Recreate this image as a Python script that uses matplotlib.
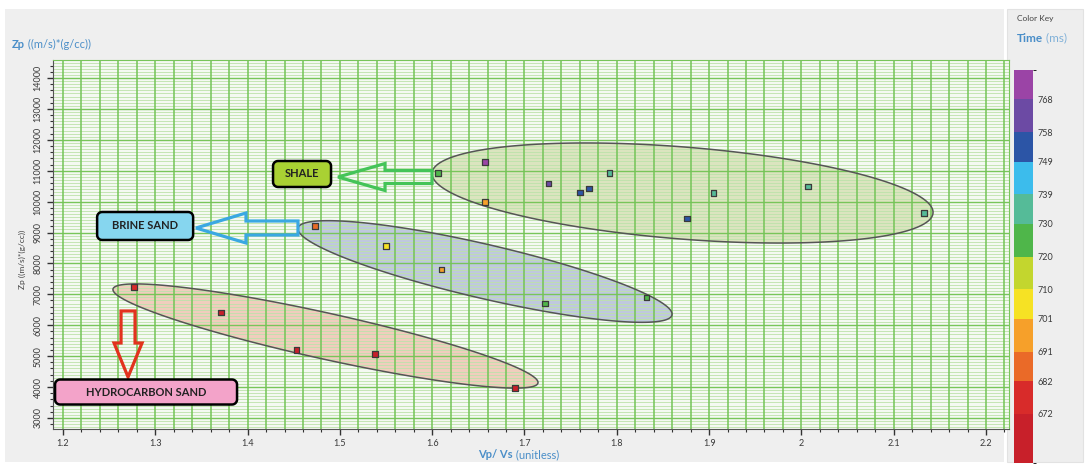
import numpy as np
import matplotlib
matplotlib.use('Agg')
import matplotlib.pyplot as plt
from matplotlib.colors import ListedColormap, BoundaryNorm
from matplotlib.patches import Polygon, Rectangle
from matplotlib.colorbar import ColorbarBase

plt.rcParams['font.family'] = ['Lato', 'DejaVu Sans']

# --- Crossplot data: Vp/Vs, acoustic impedance Zp, two-way time (ms) ---
hc_vpvs = [1.277, 1.371, 1.453, 1.538, 1.690]
hc_zp = [7230, 6410, 5190, 5060, 3960]
hc_time = [678, 668, 670, 666, 670]

brine_vpvs = [1.473, 1.550, 1.610, 1.722, 1.832]
brine_zp = [9210, 8560, 7810, 6700, 6900]
brine_time = [686, 704, 697, 724, 726]

shale_vpvs = [1.606, 1.657, 1.657, 1.726, 1.760, 1.770, 1.792, 1.876, 1.905, 2.007, 2.133]
shale_zp = [10920, 11280, 9990, 10580, 10290, 10420, 10930, 9460, 10270, 10490, 9640]
shale_time = [725, 772, 695, 763, 756, 752, 734, 753, 735, 731, 737]

# colour key
time_bounds = [657, 672, 682, 691, 701, 710, 720, 730, 739, 749, 758, 768, 777]
time_colors = ['#c8202a', '#d82b2a', '#ea6a28', '#f6a02a', '#f6e224', '#c3d62e',
               '#4fb64a', '#55bb98', '#3cbcec', '#2c55a6', '#6c4aa4', '#9b44a6']

x_ticks = [1.2, 1.3, 1.4, 1.5, 1.6, 1.7, 1.8, 1.9, 2.0, 2.1, 2.2]
y_ticks = list(range(3000, 14001, 1000))

XMIN, XMAX = 1.1892, 2.2249
YMIN, YMAX = 2641, 14583

# figure layout in pixels
W, H = 1087, 468
AX_L, AX_R, AX_T, AX_B = 53, 1009, 60, 429


def to_px(v, z):
    x = AX_L + (v - XMIN) / (XMAX - XMIN) * (AX_R - AX_L)
    y = AX_B - (z - YMIN) / (YMAX - YMIN) * (AX_B - AX_T)
    return np.array([x, y])


def to_data(p):
    p = np.atleast_2d(p)
    v = XMIN + (p[:, 0] - AX_L) / (AX_R - AX_L) * (XMAX - XMIN)
    z = YMIN + (AX_B - p[:, 1]) / (AX_B - AX_T) * (YMAX - YMIN)
    return np.column_stack([v, z])


def ellipse_between(tip_a, tip_b, half_w):
    """Ellipse polygon spanning two tips, half-thickness in pixels."""
    a, b = to_px(*tip_a), to_px(*tip_b)
    c = (a + b) / 2
    u = (b - a) / 2
    n = np.array([-u[1], u[0]]) / np.linalg.norm(u) * half_w
    t = np.linspace(0, 2 * np.pi, 200)
    pts = c + np.outer(np.cos(t), u) + np.outer(np.sin(t), n)
    return to_data(pts)


def hollow_arrow(tail, tip, shaft_hw, head_hw, head_len):
    a, b = to_px(*tail), to_px(*tip)
    d = (b - a) / np.linalg.norm(b - a)
    n = np.array([-d[1], d[0]])
    neck = b - d * head_len
    pts = [a + n * shaft_hw, neck + n * shaft_hw, neck + n * head_hw, b,
           neck - n * head_hw, neck - n * shaft_hw, a - n * shaft_hw]
    return to_data(np.array(pts))


def rounded_box(center, w, h, r=5):
    cx, cy = to_px(*center)
    x0, x1, y0, y1 = cx - w / 2, cx + w / 2, cy - h / 2, cy + h / 2
    pts = []
    for (ox, oy, a0) in [(x1 - r, y0 + r, -90), (x1 - r, y1 - r, 0),
                         (x0 + r, y1 - r, 90), (x0 + r, y0 + r, 180)]:
        ang = np.radians(np.linspace(a0, a0 + 90, 8))
        pts += list(zip(ox + r * np.cos(ang), oy + r * np.sin(ang)))
    return to_data(np.array(pts))


fig = plt.figure(figsize=(W / 100, H / 100), dpi=100)
fig.patch.set_facecolor('white')
fig.add_artist(Rectangle((5 / W, 1 - 462 / H), 999 / W, 453 / H, transform=fig.transFigure,
                         facecolor='#efefef', edgecolor='none', zorder=-10))
fig.add_artist(Rectangle((1007 / W, 1 - 462 / H), 76 / W, 453 / H, transform=fig.transFigure,
                         facecolor='#eeeeee', edgecolor='#e2e2e2', lw=0.8, zorder=-10))

ax = fig.add_axes([AX_L / W, 1 - AX_B / H, (AX_R - AX_L) / W, (AX_B - AX_T) / H])
ax.set_facecolor('#f4f9f2')
ax.set_xlim(XMIN, XMAX)
ax.set_ylim(YMIN, YMAX)

# dense green grid
ax.hlines(np.arange(2700, 14600, 100), 0, 1, transform=ax.get_yaxis_transform(),
          colors='#bde2aa', lw=0.6, zorder=1)
ax.hlines(np.arange(3000, 14600, 1000), 0, 1, transform=ax.get_yaxis_transform(),
          colors='#78c55a', lw=1.0, zorder=1)
ax.vlines(np.arange(1.2, 2.2201, 0.02), 0, 1, transform=ax.get_xaxis_transform(),
          colors='#74c457', lw=1.1, zorder=1)

cmap = ListedColormap(time_colors)
norm = BoundaryNorm(time_bounds, cmap.N)

# facies ellipses
facies = [
    ((1.5998, 10926), (2.1426, 9631), 46, '#dbe4bf'),
    ((1.4546, 9146), (1.8598, 6330), 27, '#bfc8de'),
    ((1.2542, 7172), (1.7146, 4129), 23, '#f0cdbd'),
]
for tip_a, tip_b, hw, fc in facies:
    pts = ellipse_between(tip_a, tip_b, hw)
    ax.add_patch(Polygon(pts, closed=True, facecolor=fc, edgecolor='none', zorder=0.5))
    ax.add_patch(Polygon(pts, closed=True, facecolor='none', edgecolor='#555555',
                         lw=1.1, zorder=2))

# hollow arrows
arrows = [
    ((1.5998, 10796), (1.4980, 10796), 6.5, 13.5, 47, '#44c458'),
    ((1.4546, 9146), (1.3441, 9146), 7, 15, 50, '#3aa8e2'),
    ((1.2705, 6460), (1.2705, 4324), 7, 14, 34, '#e2321e'),
]
for tail, tip, shw, hhw, hl, col in arrows:
    ax.add_patch(Polygon(hollow_arrow(tail, tip, shw, hhw, hl), closed=True,
                         facecolor='none', edgecolor=col, lw=2.3, zorder=3,
                         joinstyle='miter'))

# facies labels
labels = [
    ('SHALE', (1.459, 10894), 58, 26, '#a9d133'),
    ('BRINE SAND', (1.289, 9211), 96, 28, '#86d6ef'),
    ('HYDROCARBON SAND', (1.290, 3838), 182, 25, '#f3a3c9'),
]
for txt, c, w, h, fc in labels:
    ax.add_patch(Polygon(rounded_box(c, w, h), closed=True, facecolor=fc,
                         edgecolor='black', lw=1.8, zorder=4))
    ax.text(c[0], c[1], txt, ha='center', va='center', fontsize=8,
            fontweight='bold', color='#222222', zorder=5)

# data points coloured by time
for vx, zp, tm in [(hc_vpvs, hc_zp, hc_time), (brine_vpvs, brine_zp, brine_time),
                   (shale_vpvs, shale_zp, shale_time)]:
    ax.scatter(vx, zp, c=tm, cmap=cmap, norm=norm, marker='s', s=16,
               edgecolors='#3a3a3a', linewidths=0.9, zorder=6)

ax.set_xticks(x_ticks)
ax.set_xticklabels([f'{v:g}' for v in x_ticks])
ax.set_xticks(np.arange(1.2, 2.2201, 0.02), minor=True)
ax.set_yticks(y_ticks)
ax.set_yticks(np.arange(2800, 14600, 200), minor=True)
ax.tick_params(axis='both', which='major', length=4, width=1, color='#333333',
               labelsize=6.5, labelcolor='#3a3a3a')
ax.tick_params(axis='both', which='minor', length=2, width=0.8, color='#333333')
ax.tick_params(axis='y', labelrotation=90)
for lbl in ax.get_yticklabels():
    lbl.set_va('center')
for s in ['left', 'bottom']:
    ax.spines[s].set_color('#555555')
for s in ['top', 'right']:
    ax.spines[s].set_color('#78c55a')

ax.text(-0.032, 0.46, 'Zp ((m/s)*(g/cc))', transform=ax.transAxes, rotation=90,
        ha='center', va='center', fontsize=6, color='#404040')

# headings
t1 = fig.text(12 / W, 1 - 45 / H, 'Zp', fontsize=8, fontweight='bold',
              color='#4a8ec8', va='center')
ax.annotate(' ((m/s)*(g/cc))', xy=(1, 0), xycoords=t1, va='bottom',
            fontsize=8, color='#4a8ec8', annotation_clip=False)

t2 = fig.text(478 / W, 1 - 455 / H, 'Vp/ Vs', fontsize=8, fontweight='bold',
              color='#4a8ec8', va='center')
ax.annotate(' (unitless)', xy=(1, 0), xycoords=t2, va='bottom',
            fontsize=8, color='#4a8ec8', annotation_clip=False)

# colour key
fig.text(1017 / W, 1 - 18 / H, 'Color Key', fontsize=6, color='#444444', va='center')
t3 = fig.text(1017 / W, 1 - 38 / H, 'Time', fontsize=8.5, fontweight='bold',
              color='#4a8ec8', va='center')
ax.annotate(' (ms)', xy=(1, 0), xycoords=t3, va='bottom',
            fontsize=8.5, color='#7fb0d8', annotation_clip=False)

cax = fig.add_axes([1014 / W, 1 - 463 / H, 19 / W, 393 / H])
cb = ColorbarBase(cax, cmap=cmap, norm=norm, boundaries=time_bounds,
                  ticks=time_bounds[1:-1], spacing='proportional')
cb.outline.set_visible(False)
cax.tick_params(length=0, labelsize=6.5, labelcolor='#3a3a3a', pad=3)

fig.savefig('out.png', dpi=100)
